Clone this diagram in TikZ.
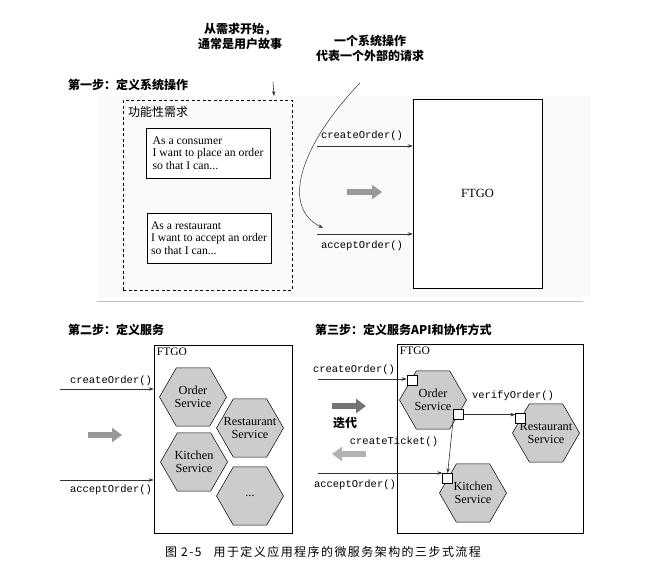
\documentclass[tikz,border=0pt]{standalone}
\usepackage{fontspec}
\setmainfont{Liberation Serif}
\setmonofont{Liberation Mono}
\newfontfamily\cjk{Noto Sans CJK SC}
\usetikzlibrary{arrows.meta,positioning,shapes.geometric,shadows}

\begin{document}
\begin{tikzpicture}[x=1pt,y=-1pt,
    call/.style={line width=0.6pt, black!80, -{Stealth[length=5pt,width=3.5pt]}},
    opname/.style={font=\fontsize{10.5}{12}\ttfamily, inner sep=0pt},
    steptitle/.style={font=\fontsize{12}{14}\cjk\bfseries, anchor=west, inner sep=0pt},
    note/.style={font=\fontsize{12}{15}\cjk\bfseries, align=center, inner sep=0pt},
    story/.style={draw, line width=0.6pt, fill=white, minimum width=124pt, minimum height=50pt, align=left,
        font=\fontsize{11.7}{12.6}\selectfont,
        drop shadow={shadow xshift=1.2pt, shadow yshift=-1.2pt, fill=black!70, opacity=1}},
    system/.style={draw, line width=0.6pt, fill=white},
    hexa/.style={regular polygon, regular polygon sides=6, draw, line width=0.5pt, fill=black!20,
        minimum size=67pt, inner sep=-6pt, align=center, font=\fontsize{12.3}{12.5}\selectfont},
    port/.style={draw, fill=white, line width=0.5pt, minimum size=10pt, inner sep=0pt},
    fat/.style={line width=6pt, -{Triangle[length=10pt,width=14pt]}},
]
    \useasboundingbox (0,0) rectangle (667,587);

    % Notes on top
    \node[note] (n1) at (240,36) {从需求开始，\\通常是用户故事};
    \node[note] (n2) at (370,48) {一个系统操作\\代表一个外部的请求};

    % Step 1: define system operations
    \fill[black!2] (97,96) rectangle (590,297);
    \node[steptitle] (t1) at (68,85) {第一步：定义系统操作};
    \node[draw, line width=0.6pt, dash pattern=on 3pt off 2.5pt, minimum width=169pt, minimum height=190pt] (req) at (207.5,195) {};
    \node[anchor=north west, font=\fontsize{12}{14}\cjk, inner sep=0pt] (reqlabel) at (128,106) {功能性需求};
    \node[story] (us1) at (208,153) {As a consumer\\I want to place an order\\so that I can...};
    \node[story] (us2) at (209,238) {As a restaurant\\I want to accept an order\\so that I can...};
    \coordinate (s0) at (273,82);
    \coordinate (s1) at (274,96);
    \draw[call] (s0) -- (s1);

    \node[system, minimum width=129pt, minimum height=189pt, font=\fontsize{12.5}{14}\selectfont] (ftgo1) at (477.5,193.5) {FTGO};
    \coordinate (c0) at (360,83);
    \coordinate (c1) at (323,228);
    \draw[line width=0.5pt, black!80, -{Stealth[length=5pt,width=3.5pt]}] (c0) .. controls (305,140) and (278,205) .. (c1);
    \coordinate (co1) at (317,146);
    \coordinate (ao1) at (317,234);
    \draw[call] (co1) -- (co1 -| ftgo1.west);
    \draw[call] (ao1) -- (ao1 -| ftgo1.west);
    \node[opname] (co1l) at (362,136) {createOrder()};
    \node[opname] (ao1l) at (362,246) {acceptOrder()};
    \draw[fat, black!40] (347,192) -- (382,192);

    % separator
    \draw[black!25, line width=0.8pt] (97,301) -- (583,301);

    % Step 2: define services
    \node[steptitle] (t2) at (68,330) {第二步：定义服务};
    \node[system, minimum width=138pt, minimum height=188pt] (ftgo2) at (223,439) {};
    \node[anchor=north west, font=\fontsize{11.5}{13}\selectfont, inner sep=3pt] at (ftgo2.north west) {FTGO};
    \node[hexa] (os2) at (193,397) {Order\\Service};
    \node[hexa] (rs2) at (250,428) {Restaurant\\Service};
    \node[hexa] (ks2) at (194,462) {Kitchen\\Service};
    \node[hexa] (xs2) at (250,496) {...};
    \coordinate (co2) at (60,389);
    \coordinate (ao2) at (60,480);
    \draw[call] (co2) -- (co2 -| ftgo2.west);
    \draw[call] (ao2) -- (ao2 -| ftgo2.west);
    \node[opname] (co2l) at (111,381) {createOrder()};
    \node[opname] (ao2l) at (111,490) {acceptOrder()};
    \draw[fat, black!40] (88,435) -- (122,435);

    % Step 3: define service APIs and collaborations
    \node[steptitle] (t3) at (315,330) {第三步：定义服务API和协作方式};
    \node[system, minimum width=186pt, minimum height=189pt] (ftgo3) at (490,438.5) {};
    \node[anchor=north west, font=\fontsize{11.5}{13}\selectfont, inner sep=3pt] at (ftgo3.north west) {FTGO};
    \node[hexa] (os3) at (433,400) {Order\\Service};
    \node[hexa] (rs3) at (546,433) {Restaurant\\Service};
    \node[hexa] (ks3) at (473,493) {Kitchen\\Service};
    \node[port] (op1) at (412,380) {};
    \node[port] (op2) at (os3.-30) {};
    \node[port] (rp) at (rs3.150) {};
    \node[port] (kp) at (ks3.150) {};
    \coordinate (co3) at (318,379);
    \coordinate (ao3) at (318,473);
    \draw[call] (co3) -- (co3 -| op1.west);
    \draw[call] (ao3) -- (ao3 -| kp.west);
    \draw[call] (op2.east) -- (op2.east -| rp.west);
    \draw[call] (op2.south west) -- (kp.north);
    \node[opname] (co3l) at (354,370) {createOrder()};
    \node[opname] (ao3l) at (355,485) {acceptOrder()};
    \node[opname] (vol) at (513,396) {verifyOrder()};
    \node[opname] (ctl) at (394,442) {createTicket()};
    \draw[fat, black!55] (332,406) -- (366,406);
    \node[font=\fontsize{12}{14}\cjk\bfseries, inner sep=0pt] (iter) at (345,423) {迭代};
    \draw[fat, black!30] (366,454) -- (332,454);

    % caption
    \node[font=\fontsize{12}{14}\cjk\addfontfeature{LetterSpace=12}, inner sep=0pt] (cap) at (323,552) {图 2-5\quad 用于定义应用程序的微服务架构的三步式流程};
\end{tikzpicture}
\end{document}
